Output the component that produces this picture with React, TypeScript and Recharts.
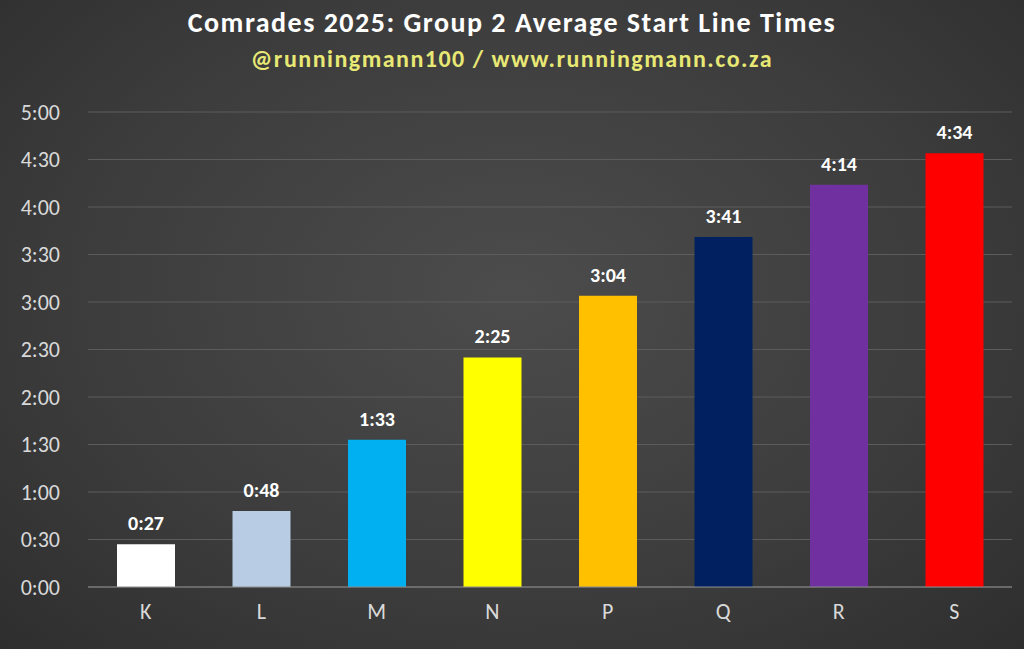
import React from "react";
import { BarChart, Bar, XAxis, YAxis, CartesianGrid, Cell, LabelList } from "recharts";

const groups = ["K", "L", "M", "N", "P", "Q", "R", "S"];
const minutes = [27, 48, 93, 145, 184, 221, 254, 274];
const barColors = ["#ffffff", "#b8cce4", "#00b0f0", "#ffff00", "#ffc000", "#002060", "#7030a0", "#ff0000"];
const yTicks = [0, 30, 60, 90, 120, 150, 180, 210, 240, 270, 300];

const fmt = (v: number) => `${Math.floor(v / 60)}:${String(v % 60).padStart(2, "0")}`;

const data = groups.map((g, i) => ({ name: g, value: minutes[i] }));
const font = "Calibri, 'Open Sans', 'Liberation Sans', sans-serif";

export default function App() {
  return (
    <div
      style={{
        position: "absolute",
        top: 0,
        left: 0,
        width: 1024,
        height: 649,
        background: "radial-gradient(ellipse at 50% 45%, #4c4c4c 0%, #3c3c3c 60%, #2e2e2e 100%)",
        fontFamily: font,
        overflow: "hidden",
      }}
    >
      <div style={{ position: "absolute", top: 5, width: "100%", textAlign: "center", color: "#ffffff", fontWeight: 700, fontSize: 28, letterSpacing: 1.5 }}>
        Comrades 2025: Group 2 Average Start Line Times
      </div>
      <div style={{ position: "absolute", top: 44, width: "100%", textAlign: "center", color: "#e8e874", fontWeight: 700, fontSize: 24, letterSpacing: 1.5 }}>
        @runningmann100 / www.runningmann.co.za
      </div>
      <div style={{ position: "absolute", top: 0, left: 0 }}>
        <BarChart width={1024} height={649} data={data} margin={{ top: 112, right: 12, bottom: 0, left: 0 }} barCategoryGap="25%">
          <CartesianGrid vertical={false} stroke="#5c5c5c" />
          <XAxis
            dataKey="name"
            height={62}
            axisLine={{ stroke: "#8a8a8a" }}
            tickLine={false}
            tick={{ fill: "#d9d9d9", fontSize: 22, fontFamily: font }}
            tickMargin={10}
          />
          <YAxis
            width={88}
            domain={[0, 300]}
            ticks={yTicks}
            tickFormatter={fmt}
            axisLine={false}
            tickLine={false}
            tick={{ fill: "#d9d9d9", fontSize: 22, fontFamily: font }}
            tickMargin={22}
          />
          <Bar dataKey="value" isAnimationActive={false} barSize={58}>
            {data.map((d, i) => (
              <Cell key={d.name} fill={barColors[i]} />
            ))}
            <LabelList
              dataKey="value"
              position="top"
              offset={14}
              formatter={(v: any) => fmt(Number(v))}
              style={{ fill: "#ffffff", fontWeight: 700, fontSize: 20, fontFamily: font }}
            />
          </Bar>
        </BarChart>
      </div>
    </div>
  );
}
